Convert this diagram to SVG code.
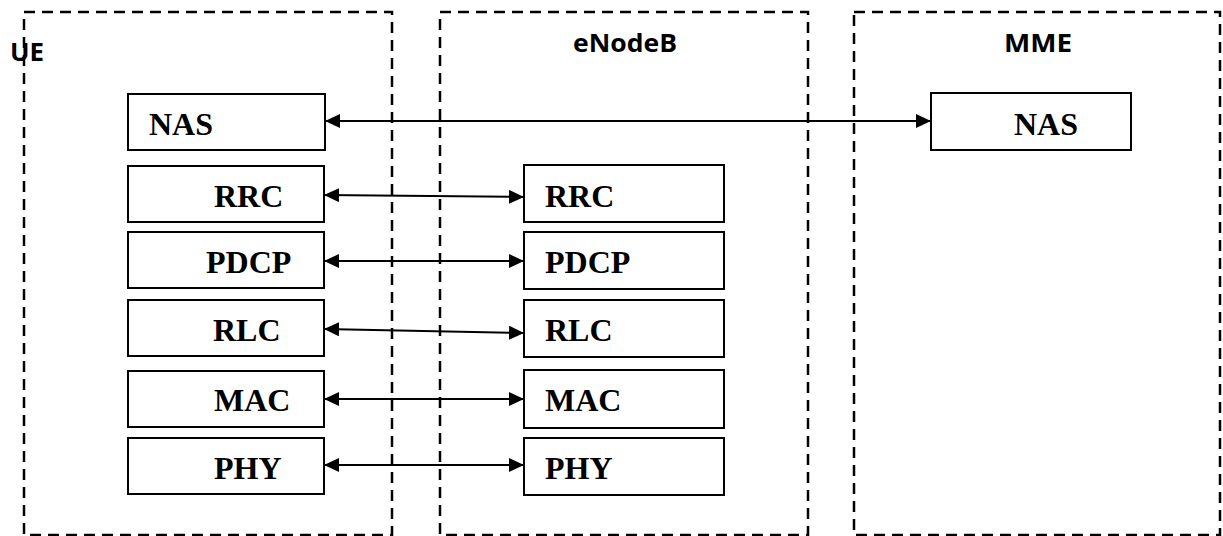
<svg xmlns="http://www.w3.org/2000/svg" width="1223" height="536" viewBox="0 0 1223 536">
<defs>
<marker id="arr" markerUnits="userSpaceOnUse" markerWidth="15" markerHeight="14" refX="15" refY="7" orient="auto-start-reverse" viewBox="0 0 15 14">
<path d="M0,0 L15,7 L0,14 z" fill="#000"/>
</marker>
<style>
.grp{fill:none;stroke:#000;stroke-width:2.5;stroke-dasharray:11 7}
.box{fill:#fff;stroke:#000;stroke-width:2}
.lbl{font-family:"Liberation Serif","Times New Roman",serif;font-weight:bold;font-size:32px;fill:#000}
.title{font-family:"Open Sans","Liberation Sans",sans-serif;font-weight:bold;font-size:25px;fill:#000}
.con{stroke:#000;stroke-width:2;fill:none;marker-start:url(#arr);marker-end:url(#arr)}
</style>
</defs>
<rect width="1223" height="536" fill="#fff"/>
<g id="ue">
<rect class="grp" x="24" y="12" width="368" height="523"/>
<text class="title" x="10" y="61" textLength="34" lengthAdjust="spacingAndGlyphs">UE</text>
</g>
<g id="enodeb">
<rect class="grp" x="440" y="12" width="368" height="523"/>
<text class="title" x="573" y="52" textLength="104" lengthAdjust="spacingAndGlyphs">eNodeB</text>
</g>
<g id="mme">
<rect class="grp" x="854" y="12" width="366" height="523"/>
<text class="title" x="1004" y="52" textLength="68" lengthAdjust="spacingAndGlyphs">MME</text>
</g>
<g id="ue-nas"><rect class="box" x="128" y="94" width="197" height="56"/><text class="lbl" x="149" y="135">NAS</text></g>
<g id="ue-rrc"><rect class="box" x="128" y="166" width="196" height="56"/><text class="lbl" x="214" y="207">RRC</text></g>
<g id="ue-pdcp"><rect class="box" x="128" y="232" width="196" height="56"/><text class="lbl" x="206" y="273">PDCP</text></g>
<g id="ue-rlc"><rect class="box" x="128" y="300" width="196" height="56"/><text class="lbl" x="213" y="341">RLC</text></g>
<g id="ue-mac"><rect class="box" x="128" y="371" width="196" height="56"/><text class="lbl" x="214" y="411">MAC</text></g>
<g id="ue-phy"><rect class="box" x="128" y="438" width="196" height="56"/><text class="lbl" x="214" y="479">PHY</text></g>
<g id="enb-rrc"><rect class="box" x="524" y="165" width="200" height="57"/><text class="lbl" x="545" y="207">RRC</text></g>
<g id="enb-pdcp"><rect class="box" x="524" y="232" width="200" height="57"/><text class="lbl" x="545" y="273">PDCP</text></g>
<g id="enb-rlc"><rect class="box" x="524" y="300" width="200" height="57"/><text class="lbl" x="545" y="341">RLC</text></g>
<g id="enb-mac"><rect class="box" x="524" y="370" width="200" height="58"/><text class="lbl" x="545" y="411">MAC</text></g>
<g id="enb-phy"><rect class="box" x="524" y="438" width="200" height="57"/><text class="lbl" x="545" y="479">PHY</text></g>
<g id="mme-nas"><rect class="box" x="931" y="93" width="200" height="57"/><text class="lbl" x="1014" y="135">NAS</text></g>
<g id="connectors">
<line class="con" x1="325" y1="121" x2="931" y2="121"/>
<line class="con" x1="324" y1="195" x2="524" y2="197"/>
<line class="con" x1="324" y1="261" x2="524" y2="261"/>
<line class="con" x1="324" y1="329" x2="524" y2="333"/>
<line class="con" x1="324" y1="399" x2="524" y2="399"/>
<line class="con" x1="324" y1="465" x2="524" y2="465"/>
</g>
</svg>
